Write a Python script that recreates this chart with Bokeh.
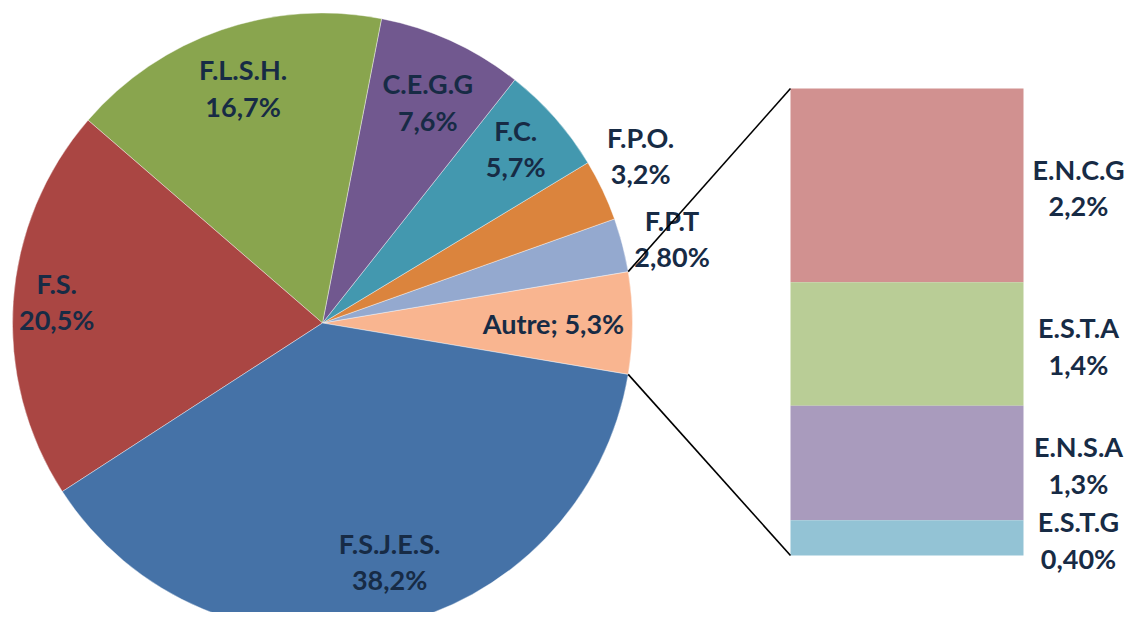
import math
from bokeh.plotting import figure
from bokeh.models import Range1d, ColumnDataSource
from bokeh.core.properties import value
from bokeh.embed import file_html
from bokeh.resources import INLINE

# ---- data ----
pie_names = ["Autre", "F.P.T", "F.P.O.", "F.C.", "C.E.G.G", "F.L.S.H.", "F.S.", "F.S.J.E.S."]
pie_values = [5.3, 2.8, 3.2, 5.7, 7.6, 16.7, 20.5, 38.2]
pie_labels = ["Autre; 5,3%", "F.P.T\n2,80%", "F.P.O.\n3,2%", "F.C.\n5,7%", "C.E.G.G\n7,6%",
              "F.L.S.H.\n16,7%", "F.S.\n20,5%", "F.S.J.E.S.\n38,2%"]
pie_colors = ["#F9B590", "#94A9CF", "#DB843D", "#4398AF", "#71588F", "#89A54E", "#AA4643", "#4572A7"]

bar_names = ["E.N.C.G", "E.S.T.A", "E.N.S.A", "E.S.T.G"]
bar_values = [2.2, 1.4, 1.3, 0.4]
bar_labels = ["E.N.C.G\n2,2%", "E.S.T.A\n1,4%", "E.N.S.A\n1,3%", "E.S.T.G\n0,40%"]
bar_colors = ["#D19190", "#B9CD96", "#A99BBD", "#93C3D5"]

# ---- layout (pixel-like coordinates, y downwards negated) ----
W, H = 1124, 612
cx, cy, R = 322, -322.5, 310
bar_x0, bar_x1, bar_top, bar_bottom = 790, 1023, -88, -555
label_rf = [0.745, 1.16, 1.16, 0.84, 0.79, 0.8, 0.86, 0.8]
label_da = [0, -1.0, 2.4, 0.7, -0.8, -0.4, -0.6, 4.0]
TXT = "#172B45"
FONT = "Lato"
FS = "27px"
LH = 1.1

p = figure(width=W, height=H, output_backend="svg", toolbar_location=None,
           x_range=Range1d(0, W), y_range=Range1d(-H, 0),
           min_border=0, outline_line_color=None)
p.axis.visible = False
p.grid.visible = False
p.background_fill_color = "white"

total = sum(pie_values)
start = -math.pi * pie_values[0] / total
starts, ends, mids = [], [], []
a = start
for v in pie_values:
    b = a + 2 * math.pi * v / total
    starts.append(a); ends.append(b); mids.append((a + b) / 2)
    a = b

src = ColumnDataSource(dict(start=starts, end=ends, color=pie_colors, name=pie_names))
p.wedge(x=cx, y=cy, radius=R, start_angle="start", end_angle="end", fill_color="color",
        line_color="white", line_width=0.4, source=src)

lx = [cx + R * rf * math.cos(m + math.radians(da)) for m, rf, da in zip(mids, label_rf, label_da)]
ly = [cy + R * rf * math.sin(m + math.radians(da)) for m, rf, da in zip(mids, label_rf, label_da)]
p.text(x=lx, y=ly, text=pie_labels, text_align="center", text_baseline="middle",
       text_font=value(FONT), text_font_style="bold", text_font_size=FS,
       text_color=TXT, text_line_height=LH)

# stacked bar of "Autre"
scale = (bar_top - bar_bottom) / sum(bar_values)
tops, bots = [], []
t = bar_top
for v in bar_values:
    tops.append(t); bots.append(t - v * scale); t -= v * scale
p.quad(left=bar_x0, right=bar_x1, top=tops, bottom=bots, fill_color=bar_colors, line_color=None)
p.text(x=[(bar_x1 + 1133) / 2] * len(bar_values), y=[(a + b) / 2 - 2 for a, b in zip(tops, bots)],
       text=bar_labels, text_align="center", text_baseline="middle",
       text_font=value(FONT), text_font_style="bold", text_font_size=FS,
       text_color=TXT, text_line_height=LH)

# connector lines
ang = math.pi * pie_values[0] / total
p.line([cx + R * math.cos(ang), bar_x0], [cy + R * math.sin(ang), bar_top], line_color="black", line_width=1.6)
p.line([cx + R * math.cos(-ang), bar_x0], [cy + R * math.sin(-ang), bar_bottom], line_color="black", line_width=1.6)

open("out.html", "w").write(file_html(p, INLINE))
